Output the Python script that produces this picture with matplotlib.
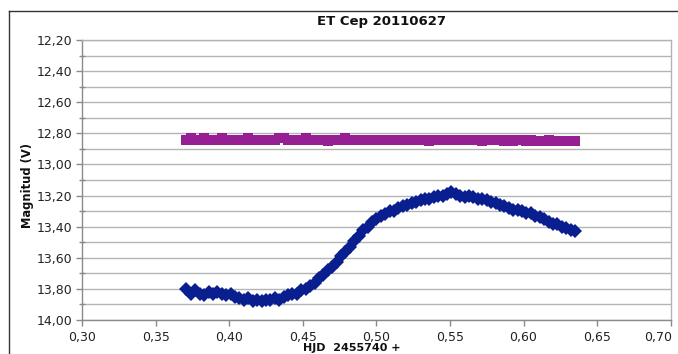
import matplotlib
matplotlib.use("Agg")
import matplotlib.pyplot as plt
from matplotlib.lines import Line2D
from matplotlib.ticker import MultipleLocator, FuncFormatter

# ---- data ----
hjd = [0.371, 0.374, 0.377, 0.380, 0.383, 0.386, 0.389, 0.392, 0.395, 0.398,
       0.401, 0.404, 0.407, 0.410, 0.413, 0.416, 0.419, 0.422, 0.425, 0.428,
       0.431, 0.434, 0.437, 0.440, 0.443, 0.446, 0.449, 0.452, 0.455, 0.458,
       0.461, 0.464, 0.467, 0.470, 0.473, 0.476, 0.479, 0.482, 0.485, 0.488,
       0.491, 0.494, 0.497, 0.500, 0.503, 0.506, 0.509, 0.512, 0.515, 0.518,
       0.521, 0.524, 0.527, 0.530, 0.533, 0.536, 0.539, 0.542, 0.545, 0.548,
       0.551, 0.554, 0.557, 0.560, 0.563, 0.566, 0.569, 0.572, 0.575, 0.578,
       0.581, 0.584, 0.587, 0.590, 0.593, 0.596, 0.599, 0.602, 0.605, 0.608,
       0.611, 0.614, 0.617, 0.620, 0.623, 0.626, 0.629, 0.632, 0.635]

et_cep = [13.80, 13.83, 13.81, 13.83, 13.84, 13.82, 13.83, 13.82, 13.83, 13.84,
          13.83, 13.85, 13.86, 13.87, 13.86, 13.88, 13.87, 13.88, 13.87, 13.87,
          13.86, 13.87, 13.85, 13.84, 13.83, 13.83, 13.81, 13.80, 13.78, 13.76,
          13.73, 13.71, 13.68, 13.66, 13.63, 13.59, 13.56, 13.53, 13.49, 13.46,
          13.42, 13.40, 13.37, 13.35, 13.33, 13.32, 13.30, 13.30, 13.28, 13.27,
          13.26, 13.25, 13.24, 13.23, 13.22, 13.22, 13.21, 13.20, 13.20, 13.19,
          13.18, 13.19, 13.20, 13.21, 13.20, 13.21, 13.22, 13.22, 13.23, 13.24,
          13.25, 13.26, 13.27, 13.28, 13.29, 13.29, 13.30, 13.31, 13.31, 13.33,
          13.34, 13.35, 13.37, 13.38, 13.38, 13.40, 13.41, 13.42, 13.43]

check_star = [12.84, 12.83, 12.84, 12.84, 12.83, 12.84, 12.84, 12.84, 12.83, 12.84,
              12.84, 12.84, 12.84, 12.84, 12.83, 12.84, 12.84, 12.84, 12.84, 12.84,
              12.84, 12.83, 12.83, 12.84, 12.84, 12.84, 12.84, 12.83, 12.84, 12.84,
              12.84, 12.84, 12.85, 12.84, 12.84, 12.84, 12.83, 12.84, 12.84, 12.84,
              12.84, 12.84, 12.84, 12.84, 12.84, 12.84, 12.84, 12.84, 12.84, 12.84,
              12.84, 12.84, 12.84, 12.84, 12.84, 12.85, 12.84, 12.84, 12.84, 12.84,
              12.84, 12.84, 12.84, 12.84, 12.84, 12.84, 12.84, 12.85, 12.84, 12.84,
              12.84, 12.84, 12.85, 12.84, 12.85, 12.84, 12.84, 12.85, 12.84, 12.85,
              12.85, 12.85, 12.84, 12.85, 12.85, 12.85, 12.85, 12.85, 12.85]

x_min, x_max = 0.30, 0.70
title = "ET Cep 20110627"
xlabel = "HJD  2455740 +"
ylabel = "Magnitud (V)"

# ---- figure ----
W, H = 678, 354
fig = plt.figure(figsize=(W / 100, H / 100), dpi=100)
ax = fig.add_axes([82 / W, 1 - 320 / H, (670.7 - 82) / W, (320 - 40) / H])

ax.plot(hjd, check_star, linestyle="none", marker="s", markersize=6.6,
        color="#961f94", markeredgewidth=0)
ax.plot(hjd, et_cep, linestyle="none", marker="D", markersize=7.0,
        color="#0a1f8f", markeredgewidth=0)

ax.set_xlim(x_min, x_max)
ax.set_ylim(14.00, 12.20)
ax.xaxis.set_major_locator(MultipleLocator(0.05))
ax.yaxis.set_major_locator(MultipleLocator(0.2))
ax.yaxis.set_minor_locator(MultipleLocator(0.1))
comma = lambda v: f"{v:.2f}".replace(".", ",")
ax.xaxis.set_major_formatter(
    FuncFormatter(lambda v, p: "" if abs(v - x_max) < 1e-9 else comma(v)))
ax.yaxis.set_major_formatter(FuncFormatter(lambda v, p: comma(v)))

ax.grid(True, axis="y", which="both", color="#b4b4b4", linewidth=1.0)
ax.set_axisbelow(True)

for s in ("top", "right"):
    ax.spines[s].set_color("#b4b4b4")
for s in ("left", "bottom"):
    ax.spines[s].set_color("#8a8a8a")
for s in ax.spines.values():
    s.set_linewidth(1.0)

ax.tick_params(axis="both", which="major", direction="out", length=4,
               width=1, color="#8a8a8a", labelsize=9, labelcolor="#222222", pad=3)
ax.tick_params(axis="y", which="minor", direction="inout", length=5,
               width=1, color="#8a8a8a")
ax.tick_params(axis="x", which="major", pad=4)

# last x tick label kept inside the picture
ax.annotate(comma(x_max), xy=(x_max, 0), xycoords=("data", "axes fraction"),
            xytext=(1, -8), textcoords="offset points", ha="right", va="top",
            fontsize=9, color="#222222", annotation_clip=False)

fig.text(382 / W, 1 - 22 / H, title, ha="center", va="center",
         fontsize=9.5, fontweight="bold", color="#111111")
fig.text(27 / W, 1 - 185 / H, ylabel, ha="center", va="center", rotation=90,
         fontsize=8.3, fontweight="bold", color="#111111")
fig.text(352 / W, 1 - 348 / H, xlabel, ha="center", va="center",
         fontsize=8, fontweight="bold", color="#111111")

# outer frame (left and top edges visible)
fig.add_artist(Line2D([9 / W, 1], [1 - 11 / H, 1 - 11 / H], transform=fig.transFigure,
                      color="#333333", linewidth=1.0))
fig.add_artist(Line2D([9 / W, 9 / W], [0, 1 - 11 / H], transform=fig.transFigure,
                      color="#333333", linewidth=1.0))

fig.savefig("out.png", dpi=100)
